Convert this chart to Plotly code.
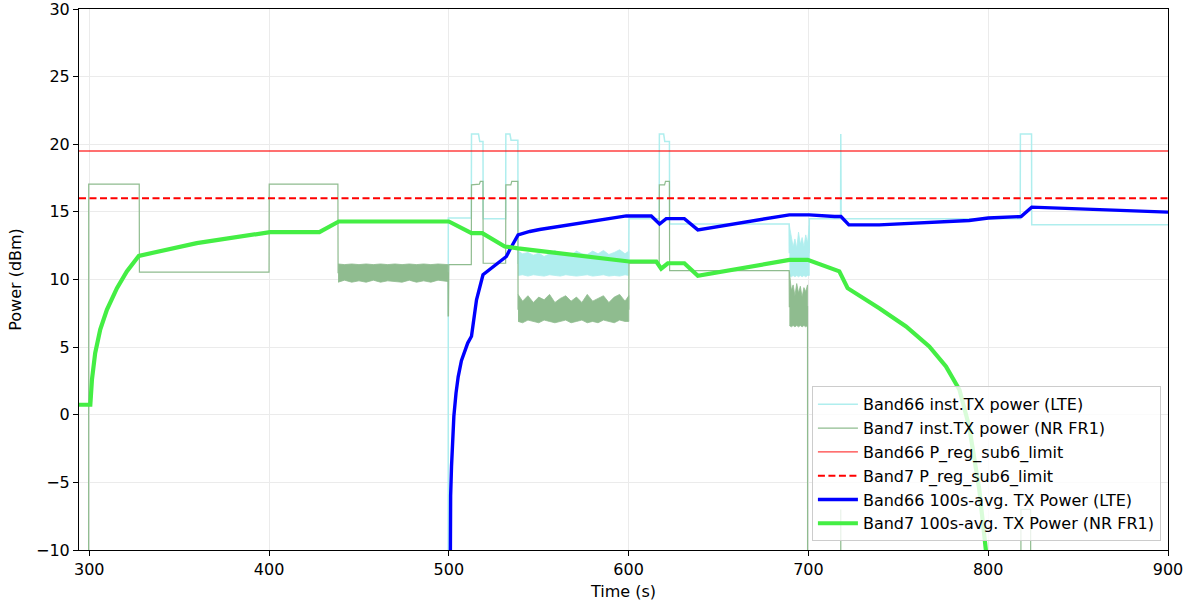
import plotly.graph_objects as go

X_MIN, X_MAX = 294.3, 900.0
OFF = -40.0

# ---- Band66 inst. TX power (LTE) ----
b66_t = [294.3, 499.6, 499.7, 512.5, 512.6, 516.5, 517.2, 519.0, 519.1, 531.6, 531.7, 534.0, 534.6, 538.4,
         538.5, 600.1, 600.2, 617.0, 617.1, 619.5, 620.1, 622.7, 622.8, 689.3, 689.4, 700.4, 700.5, 717.9,
         718.0, 718.2, 817.8, 817.9, 824.1, 824.2, 900.0]
b66_p = [OFF, OFF, 14.55, 14.55, 20.75, 20.75, 20.2, 20.2, 14.5, 14.5, 20.75, 20.75, 20.3, 20.3,
         11.2, 11.2, 14.5, 14.5, 20.75, 20.75, 20.2, 20.2, 14.1, 14.1, 12.0, 12.0, 14.5, 14.5,
         20.75, 14.5, 14.5, 20.75, 20.75, 14.05, 14.05]

# noisy segments of Band66 (envelopes)
b66_n1_t = [538.5, 541, 544, 547, 550, 553, 556, 559, 562, 565, 568, 571, 574, 577, 580, 583, 586, 589, 592, 595, 598, 600.1]
b66_n1_hi = [12.1, 11.9, 12.0, 11.8, 11.95, 11.7, 11.9, 12.15, 11.85, 12.0, 11.8, 12.1, 11.9, 11.85, 12.1, 11.9, 12.15, 11.85, 12.0, 12.2, 11.9, 12.1]
b66_n1_lo = [10.3, 10.35, 10.25, 10.35, 10.3, 10.25, 10.35, 10.3, 10.25, 10.35, 10.3, 10.25, 10.3, 10.35, 10.25, 10.3, 10.35, 10.25, 10.3, 10.25, 10.35, 10.3]
b66_n2_t = [689.4, 690.5, 691.5, 692.5, 693.5, 694.5, 695.5, 696.5, 697.5, 698.5, 699.5, 700.5]
b66_n2_hi = [14.0, 13.2, 12.4, 13.0, 12.3, 13.5, 12.6, 13.1, 12.4, 13.3, 12.7, 14.0]
b66_n2_lo = [10.3, 10.2, 10.3, 10.2, 10.3, 10.2, 10.3, 10.2, 10.3, 10.2, 10.3, 10.3]

# ---- Band7 inst. TX power (NR FR1) ----
b7_t = [294.3, 299.6, 299.7, 327.8, 327.9, 400.0, 400.1, 438.3, 438.4, 499.5, 499.6, 499.8, 500.0, 512.5,
        512.6, 517.0, 517.5, 519.0, 519.1, 531.6, 531.7, 534.5, 535.0, 538.4, 538.5, 600.1, 600.2, 617.0,
        617.1, 620.0, 620.5, 622.7, 622.8, 689.3, 689.4, 699.5, 699.6, 717.9, 718.0, 718.1, 818.1, 818.2,
        823.6, 823.7, 900.0]
b7_p = [OFF, OFF, 17.05, 17.05, 10.55, 10.55, 17.05, 17.05, 10.5, 10.5, 7.3, 7.3, 11.1, 11.1,
        17.0, 17.05, 17.25, 17.25, 11.2, 11.2, 17.0, 17.0, 17.25, 17.25, 7.8, 7.8, 11.2, 11.2,
        17.0, 17.0, 17.25, 17.25, 10.65, 10.65, 8.0, 8.0, OFF, OFF, -7.0, OFF, OFF, -7.0,
        -7.0, OFF, OFF]

b7_n1_t = [438.4, 442, 446, 450, 454, 458, 462, 466, 470, 474, 478, 482, 486, 490, 494, 499.5]
b7_n1_hi = [11.15, 11.1, 11.15, 11.1, 11.15, 11.1, 11.15, 11.1, 11.15, 11.1, 11.15, 11.1, 11.15, 11.1, 11.15, 11.1]
b7_n1_lo = [9.8, 9.95, 9.8, 9.9, 9.8, 9.95, 9.8, 9.9, 9.85, 9.8, 9.95, 9.8, 9.9, 9.8, 9.95, 9.85]
b7_n2_t = [538.5, 541, 544, 547, 550, 553, 556, 559, 562, 565, 568, 571, 574, 577, 580, 583, 586, 589, 592, 595, 598, 600.1]
b7_n2_hi = [8.9, 8.4, 8.8, 8.3, 8.7, 8.5, 8.9, 8.3, 8.6, 8.8, 8.4, 8.7, 8.3, 8.9, 8.4, 8.6, 8.8, 8.3, 8.7, 8.9, 8.4, 8.8]
b7_n2_lo = [6.9, 6.8, 7.0, 6.9, 6.8, 7.0, 6.9, 6.8, 6.9, 7.0, 6.8, 6.9, 7.0, 6.8, 6.9, 6.8, 7.0, 6.9, 6.8, 7.0, 6.9, 6.9]
b7_n3_t = [689.4, 690.5, 691.5, 692.5, 693.5, 694.5, 695.5, 696.5, 697.5, 698.5, 699.5]
b7_n3_hi = [10.6, 9.2, 9.6, 8.8, 9.7, 9.0, 9.5, 8.7, 9.4, 9.1, 9.6]
b7_n3_lo = [6.6, 6.5, 6.6, 6.5, 6.6, 6.5, 6.6, 6.5, 6.6, 6.5, 6.6]

# ---- regulatory limits ----
lim_t = [X_MIN, X_MAX]
b66_limit = [19.5, 19.5]
b7_limit = [16.0, 16.0]

# ---- 100 s averages ----
b66_avg_t = [500.4, 500.6, 501.0, 501.5, 502.0, 502.8, 504.0, 505.2, 507.0, 508.9, 510.5, 512.6, 515.4, 519.0,
             532.0, 533.9, 538.5, 545.0, 550.5, 598.7, 612.6, 617.2, 620.9, 631.0, 638.5, 689.4, 700.5,
             714.5, 718.1, 722.5, 739.4, 789.4, 800.0, 818.3, 824.2, 900.0]
b66_avg_p = [-25.0, -10.0, -6.0, -3.8, -2.0, -0.1, 1.6, 2.8, 4.0, 4.8, 5.3, 5.8, 8.5, 10.35,
             11.7, 12.2, 13.3, 13.55, 13.7, 14.7, 14.7, 14.1, 14.5, 14.5, 13.67, 14.78, 14.78,
             14.66, 14.66, 14.04, 14.04, 14.36, 14.55, 14.66, 15.35, 14.98]

b7_avg_t = [294.3, 300.6, 301.5, 303.3, 306.1, 309.8, 315.4, 320.9, 327.6, 359.8, 400.5, 428.0, 438.8, 500.0,
            512.6, 518.6, 531.1, 538.5, 600.2, 615.4, 618.1, 621.8, 631.0, 638.5, 689.4, 699.6, 717.2,
            721.8, 739.4, 754.3, 767.2, 776.5, 784.0, 789.4, 795.0, 798.7, 799.8]
b7_avg_p = [0.74, 0.74, 2.6, 4.56, 6.3, 7.76, 9.36, 10.6, 11.75, 12.69, 13.5, 13.5, 14.29, 14.29,
            13.43, 13.43, 12.44, 12.3, 11.33, 11.33, 10.8, 11.2, 11.2, 10.27, 11.45, 11.45, 10.6,
            9.36, 7.88, 6.53, 5.05, 3.57, 1.85, -0.86, -5.5, -10.0, -30.0]

CYAN = "#AFEEEE"
SEAG = "#8FBC8F"
FONT = "DejaVu Sans"
FS = 16

fig = go.Figure()


def band(t, hi, lo, color, group):
    fig.add_trace(go.Scatter(
        x=list(t) + list(t)[::-1], y=list(hi) + list(lo)[::-1],
        mode="lines", fill="toself", fillcolor=color,
        line=dict(color=color, width=0.8), showlegend=False,
        legendgroup=group, hoverinfo="skip"))


fig.add_trace(go.Scatter(x=b66_t, y=b66_p, mode="lines", name="Band66 inst.TX power (LTE)",
                         line=dict(color=CYAN, width=1.5), legendgroup="a"))
band(b66_n1_t, b66_n1_hi, b66_n1_lo, CYAN, "a")
band(b66_n2_t, b66_n2_hi, b66_n2_lo, CYAN, "a")

fig.add_trace(go.Scatter(x=b7_t, y=b7_p, mode="lines", name="Band7 inst.TX power (NR FR1)",
                         line=dict(color=SEAG, width=1.2), legendgroup="b"))
band(b7_n1_t, b7_n1_hi, b7_n1_lo, SEAG, "b")
band(b7_n2_t, b7_n2_hi, b7_n2_lo, SEAG, "b")
band(b7_n3_t, b7_n3_hi, b7_n3_lo, SEAG, "b")

fig.add_trace(go.Scatter(x=lim_t, y=b66_limit, mode="lines", name="Band66 P_reg_sub6_limit",
                         line=dict(color="rgba(255,0,0,0.75)", width=1.4), legendgroup="c"))
fig.add_trace(go.Scatter(x=lim_t, y=b7_limit, mode="lines", name="Band7 P_reg_sub6_limit",
                         line=dict(color="#FF0000", width=2, dash="7px,3.5px"), legendgroup="d"))
fig.add_trace(go.Scatter(x=b66_avg_t, y=b66_avg_p, mode="lines", name="Band66 100s-avg. TX Power (LTE)",
                         line=dict(color="#0000FF", width=3.4), legendgroup="e"))
fig.add_trace(go.Scatter(x=b7_avg_t, y=b7_avg_p, mode="lines", name="Band7 100s-avg. TX Power (NR FR1)",
                         line=dict(color="#44EE44", width=4.2), legendgroup="f"))

axis_common = dict(showline=True, linecolor="black", linewidth=1, mirror=True,
                   ticks="outside", ticklen=5, tickcolor="black", tickwidth=1,
                   showgrid=True, gridcolor="#ebebeb", gridwidth=1, zeroline=False,
                   automargin=False, ticklabeloverflow="allow",
                   tickfont=dict(family=FONT, size=FS, color="black"))

fig.update_layout(
    width=1188, height=602,
    margin=dict(l=79, r=20, t=9, b=52),
    plot_bgcolor="white", paper_bgcolor="white",
    font=dict(family=FONT, size=FS, color="black"),
    xaxis=dict(range=[X_MIN, X_MAX], tickvals=[300, 400, 500, 600, 700, 800, 900],
               title=dict(text="Time (s)", font=dict(family=FONT, size=FS), standoff=7), **axis_common),
    yaxis=dict(range=[-10, 30], tickvals=[-10, -5, 0, 5, 10, 15, 20, 25, 30],
               title=dict(text="Power (dBm)", font=dict(family=FONT, size=FS), standoff=10), **axis_common),
    legend=dict(x=0.9935, y=0.016, xanchor="right", yanchor="bottom",
                bgcolor="rgba(255,255,255,0.8)", bordercolor="#cccccc", borderwidth=1,
                font=dict(family=FONT, size=FS, color="black"), tracegroupgap=0,
                itemwidth=40),
    showlegend=True,
)

fig.write_html("out.html", post_script="document.body.style.margin='0px';",
               config={"displayModeBar": False})
